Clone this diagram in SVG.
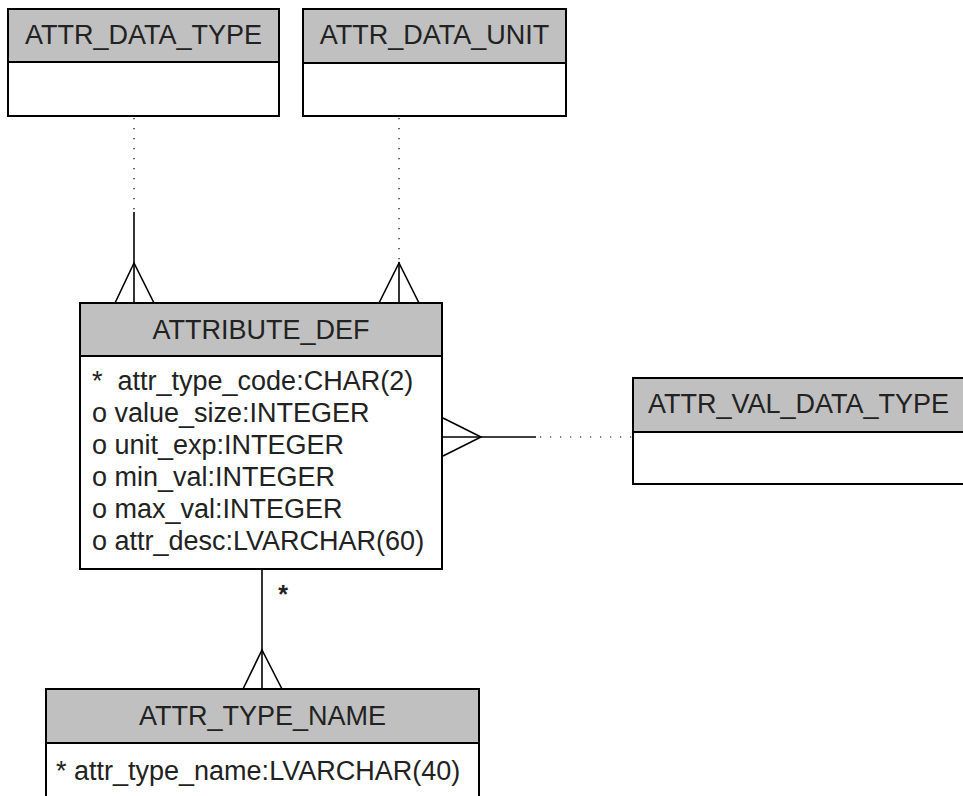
<svg xmlns="http://www.w3.org/2000/svg" width="963" height="796" viewBox="0 0 963 796">
<style>
.hdr{fill:#c0c0c0;stroke:#000;stroke-width:2}
.body{fill:#fff;stroke:#000;stroke-width:2}
text{font-family:"Liberation Sans",Arial,sans-serif;font-size:27px;fill:#222;white-space:pre}
.c{text-anchor:middle}
.ln{stroke:#000;stroke-width:1.6;fill:none}
.dot{stroke:#000;stroke-width:1.2;fill:none;stroke-dasharray:1.2 8.8}
</style>
<rect width="963" height="796" fill="#fff"/>
<g id="connectors">
  <line class="dot" x1="134" y1="118" x2="134" y2="212"/>
  <line class="ln" x1="134" y1="212" x2="134" y2="303"/>
  <polyline class="ln" points="115,303 134,263 154,303"/>
  <line class="dot" x1="399" y1="118" x2="399" y2="262"/>
  <line class="ln" x1="399" y1="262" x2="399" y2="303"/>
  <polyline class="ln" points="379,303 399,263 419,303"/>
  <line class="ln" x1="443" y1="437" x2="536" y2="437"/>
  <line class="dot" x1="540" y1="437" x2="633" y2="437"/>
  <polyline class="ln" points="443,418 481,437 443,456"/>
  <line class="ln" x1="262" y1="569" x2="262" y2="689"/>
  <polyline class="ln" points="243,689 262,650 282,689"/>
  <text x="283" y="603" class="c" style="font-weight:bold;font-size:25px">*</text>
</g>
<g id="attr_data_type">
  <rect class="body" x="8" y="9" width="271" height="107"/>
  <rect class="hdr" x="8" y="9" width="271" height="53"/>
  <text class="c" x="143.5" y="44">ATTR_DATA_TYPE</text>
</g>
<g id="attr_data_unit">
  <rect class="body" x="303" y="9" width="263" height="107"/>
  <rect class="hdr" x="303" y="9" width="263" height="54"/>
  <text class="c" x="434.5" y="44">ATTR_DATA_UNIT</text>
</g>
<g id="attribute_def">
  <rect class="body" x="80" y="303" width="362" height="266"/>
  <rect class="hdr" x="80" y="303" width="362" height="53"/>
  <text class="c" x="261" y="339">ATTRIBUTE_DEF</text>
  <text x="92" y="390">*  attr_type_code:CHAR(2)</text>
  <text x="92" y="422">o value_size:INTEGER</text>
  <text x="92" y="454">o unit_exp:INTEGER</text>
  <text x="92" y="486">o min_val:INTEGER</text>
  <text x="92" y="518">o max_val:INTEGER</text>
  <text x="92" y="550">o attr_desc:LVARCHAR(60)</text>
</g>
<g id="attr_val_data_type">
  <rect class="body" x="633" y="378" width="340" height="106"/>
  <rect class="hdr" x="633" y="378" width="340" height="54"/>
  <text x="648" y="413">ATTR_VAL_DATA_TYPE</text>
</g>
<g id="attr_type_name">
  <rect class="body" x="46" y="689" width="433" height="120"/>
  <rect class="hdr" x="46" y="689" width="433" height="54"/>
  <text class="c" x="262.5" y="725">ATTR_TYPE_NAME</text>
  <text x="56" y="780">* attr_type_name:LVARCHAR(40)</text>
</g>
</svg>
